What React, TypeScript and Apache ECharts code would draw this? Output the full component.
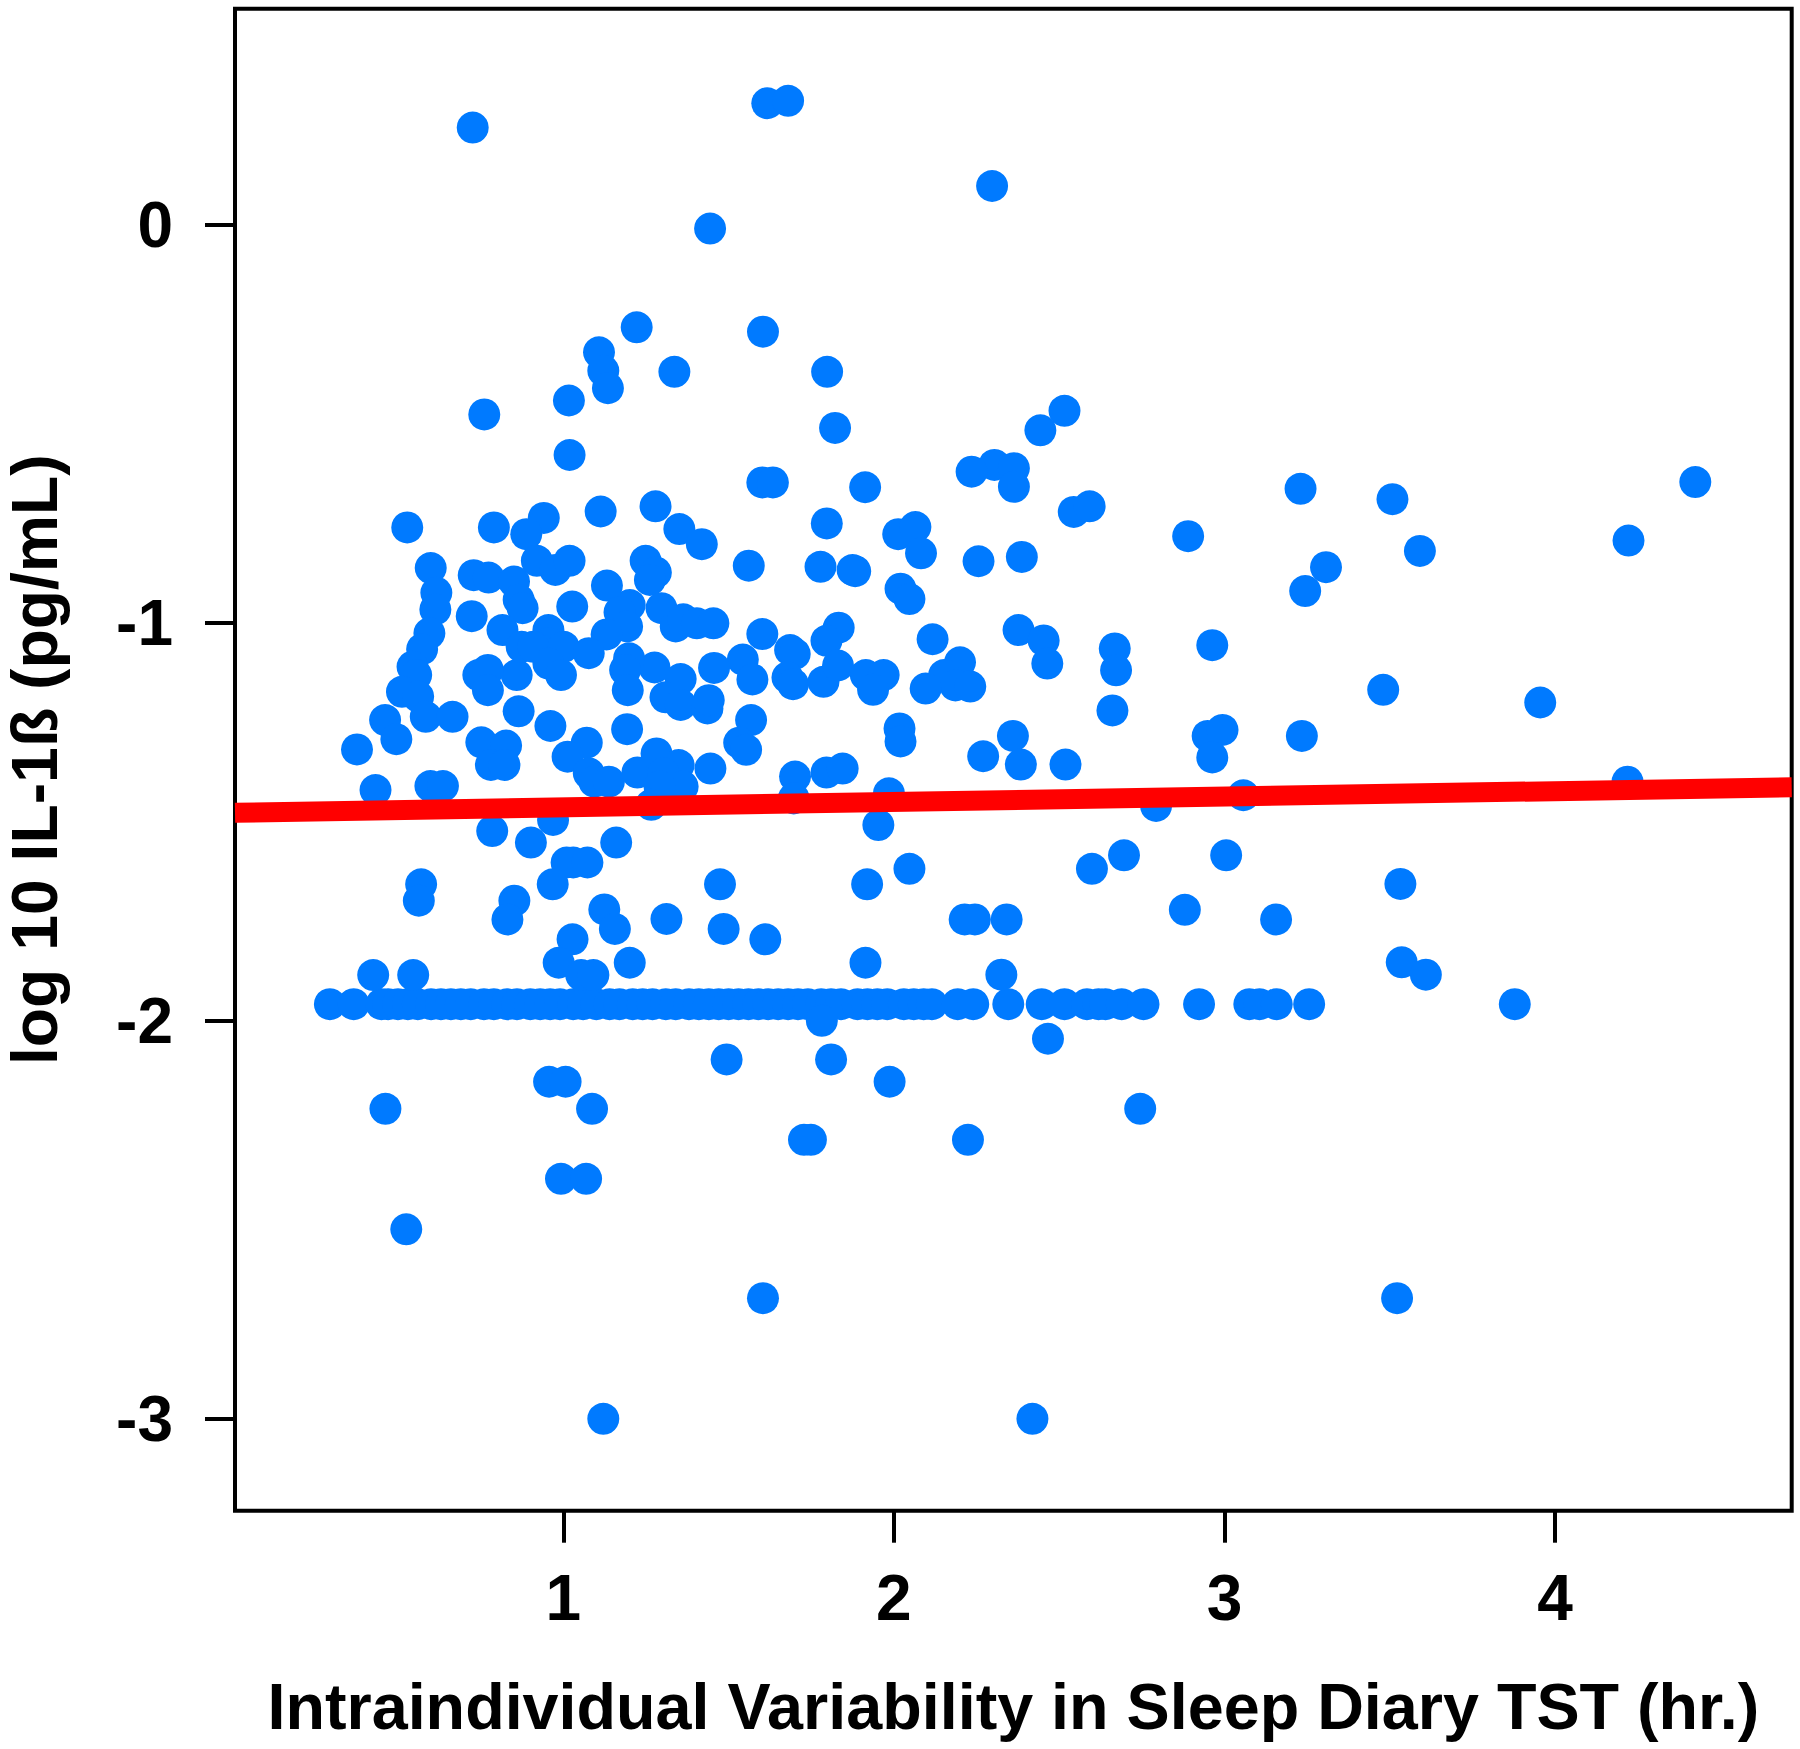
import React, { useEffect, useRef } from "react";
import * as echarts from "echarts";

const xTicks = [1, 2, 3, 4];
const yTicks = [0, -1, -2, -3];
const xRange = [0.007, 4.7156];
const yRange = [-3.231, 0.5436];

const trendX = [0.007, 4.7156];
const trendY = [-1.477, -1.413];

const floorY = -1.958;
const floorX = [
  0.294, 0.366, 0.45, 0.47, 0.5, 0.53, 0.56, 0.6, 0.63, 0.66, 0.69, 0.72, 0.76, 0.79, 0.83, 0.86, 0.9, 0.93,
  0.96, 0.99, 1.03, 1.06, 1.1, 1.14, 1.17, 1.21, 1.24, 1.27, 1.31, 1.34, 1.38, 1.41, 1.44, 1.47, 1.5, 1.53,
  1.56, 1.59, 1.62, 1.65, 1.68, 1.71, 1.74, 1.78, 1.81, 1.84, 1.89, 1.92, 1.95, 1.98, 2.03, 2.06, 2.09, 2.115,
  2.193, 2.24, 2.346, 2.447, 2.516, 2.584, 2.619, 2.64, 2.689, 2.755, 2.923, 3.075, 3.106, 3.158, 3.256, 3.878,
];

const topPoints = [
  [0.726, 0.245], [1.617, 0.306], [1.68, 0.312], [2.297, 0.098], [1.444, -0.009], [1.222, -0.257], [1.604, -0.268],
  [1.108, -0.32], [1.121, -0.366], [1.135, -0.41], [1.336, -0.369], [1.798, -0.369], [1.017, -0.441], [0.761, -0.476],
  [1.822, -0.51], [2.516, -0.467], [2.443, -0.516], [2.304, -0.603], [2.363, -0.611], [2.235, -0.62], [2.363, -0.658],
  [1.019, -0.578], [3.23, -0.663], [3.508, -0.689], [4.424, -0.646], [2.544, -0.721], [2.592, -0.707],
];

const denseUpper = [
  [1.602, -0.647], [1.634, -0.647], [1.913, -0.659], [1.113, -0.72], [1.279, -0.707], [0.528, -0.76], [0.79, -0.76],
  [0.941, -0.736], [0.888, -0.777], [1.351, -0.764], [1.419, -0.802], [1.797, -0.75], [2.013, -0.777], [2.065, -0.759],
  [2.082, -0.825], [1.561, -0.856], [1.778, -0.859], [1.875, -0.867], [1.883, -0.87], [2.02, -0.914], [2.047, -0.94],
  [0.599, -0.862], [0.616, -0.924], [0.613, -0.966], [0.595, -1.026], [0.573, -1.066], [0.544, -1.11], [0.555, -1.131],
  [0.512, -1.173], [0.561, -1.185], [0.584, -1.236], [0.665, -1.236], [0.461, -1.244], [0.495, -1.292], [0.376, -1.318],
  [0.432, -1.42], [0.598, -1.41], [0.636, -1.41], [0.729, -0.88], [0.774, -0.886], [0.851, -0.896], [0.865, -0.942],
  [0.877, -0.963], [0.92, -0.844], [0.976, -0.867], [1.019, -0.844], [0.723, -0.983], [0.816, -1.018], [1.027, -0.959],
  [1.132, -0.906], [1.249, -0.844], [1.28, -0.873], [1.262, -0.892], [1.201, -0.955], [1.17, -0.973], [1.193, -1.009],
  [1.131, -1.029], [1.297, -0.963], [1.34, -1.009], [1.363, -0.991], [1.404, -1.001], [1.454, -1.001], [1.602, -1.028],
  [1.833, -1.012], [1.796, -1.045], [1.686, -1.068], [1.7, -1.078],
];

const denseMiddle = [
  [1.543, -1.092], [1.572, -1.142], [1.456, -1.113], [1.276, -1.112], [1.355, -1.141], [1.309, -1.187], [1.355, -1.206],
  [1.436, -1.215], [1.44, -1.194], [1.568, -1.244], [1.532, -1.301], [1.553, -1.319], [1.678, -1.137], [1.695, -1.154],
  [1.787, -1.148], [1.831, -1.107], [1.915, -1.131], [1.969, -1.131], [1.937, -1.168], [2.017, -1.265], [2.02, -1.298],
  [1.193, -1.267], [0.865, -1.222], [0.961, -1.259], [0.859, -1.131], [0.743, -1.131], [0.772, -1.118], [0.772, -1.169],
  [0.874, -1.06], [0.955, -1.018], [0.955, -1.051], [0.909, -1.06], [1.001, -1.06], [0.955, -1.102], [0.993, -1.131],
  [1.077, -1.076], [1.199, -1.089], [1.187, -1.118], [1.195, -1.169], [0.752, -1.3], [0.827, -1.308], [0.781, -1.357],
  [0.822, -1.357], [1.071, -1.301], [1.013, -1.336], [1.077, -1.378], [1.094, -1.399], [1.138, -1.399], [1.224, -1.376],
  [1.282, -1.328], [1.349, -1.357], [1.445, -1.366], [1.303, -1.378], [1.361, -1.411], [1.291, -1.411], [1.266, -1.457],
  [1.701, -1.386], [1.697, -1.441], [1.796, -1.376], [1.845, -1.366], [1.985, -1.428], [1.953, -1.508], [0.785, -1.523],
  [0.969, -1.495], [0.902, -1.552], [1.16, -1.552],
];

const rightPoints = [
  [2.89, -0.782], [4.222, -0.793], [3.591, -0.819], [3.307, -0.86], [2.256, -0.845], [2.387, -0.834], [3.244, -0.92],
  [2.377, -1.018], [2.453, -1.044], [2.464, -1.102], [2.668, -1.064], [2.672, -1.119], [2.963, -1.056], [2.117, -1.041],
  [2.2, -1.099], [2.152, -1.131], [2.186, -1.157], [2.231, -1.16], [2.096, -1.165], [2.661, -1.22], [3.48, -1.168],
  [3.955, -1.2], [2.36, -1.284], [2.949, -1.284], [2.994, -1.269], [2.963, -1.338], [3.234, -1.284], [2.27, -1.335],
  [2.384, -1.356], [2.519, -1.356], [4.219, -1.399], [2.793, -1.46], [3.057, -1.433],
];

const lowerPoints = [
  [1.01, -1.602], [1.03, -1.602], [1.073, -1.602], [0.968, -1.657], [0.57, -1.657], [0.563, -1.698], [0.852, -1.698],
  [0.831, -1.745], [1.124, -1.72], [1.156, -1.769], [1.312, -1.744], [1.474, -1.657], [1.485, -1.769], [1.611, -1.795],
  [1.919, -1.657], [2.047, -1.618], [2.599, -1.618], [2.696, -1.584], [3.005, -1.584], [3.532, -1.656], [1.028, -1.795],
  [0.986, -1.854], [1.054, -1.885], [1.091, -1.885], [1.201, -1.854], [1.914, -1.854], [0.425, -1.885], [0.546, -1.885],
  [2.214, -1.745], [2.245, -1.745], [2.341, -1.745], [2.88, -1.721], [3.156, -1.745], [2.325, -1.884], [3.536, -1.853],
  [3.609, -1.884], [1.782, -2.0], [2.466, -2.045], [1.494, -2.097], [1.81, -2.097], [0.957, -2.153], [1.007, -2.153],
  [1.987, -2.153], [2.745, -2.221], [0.462, -2.221], [1.087, -2.221], [1.728, -2.299], [1.749, -2.299], [2.224, -2.299],
  [0.993, -2.397], [1.069, -2.397], [0.525, -2.524], [1.604, -2.697], [3.522, -2.697], [1.121, -3.0], [2.419, -3.0],
];

const xTitle = "Intraindividual Variability in Sleep Diary TST (hr.)";
const yTitle = "log 10 IL-1ß (pg/mL)";
const fontFamily = "'Liberation Sans', Arial, sans-serif";

export default function App() {
  const ref = useRef<HTMLDivElement>(null);
  useEffect(() => {
    const chart = echarts.init(ref.current!, undefined, { renderer: "svg" });
    const points = [
      ...floorX.map((x) => [x, floorY]),
      ...topPoints,
      ...denseUpper,
      ...denseMiddle,
      ...rightPoints,
      ...lowerPoints,
    ];
    const axisText = { fontFamily, fontWeight: "bold" as const, fontSize: 64, color: "#000" };
    chart.setOption({
      animation: false,
      backgroundColor: "#fff",
      grid: {
        left: 235,
        right: 8.3,
        top: 8.7,
        bottom: 238.3,
        outerBoundsMode: "none",
        show: true,
        borderColor: "#000",
        borderWidth: 4,
        backgroundColor: "transparent",
      },
      xAxis: {
        type: "value",
        min: xRange[0],
        max: xRange[1],
        splitLine: { show: false },
        axisLine: { show: false, onZero: false },
        axisTick: { show: true, length: 32, customValues: xTicks, lineStyle: { color: "#000", width: 4 } },
        axisLabel: { ...axisText, margin: 55, customValues: xTicks, formatter: (v: number) => String(v) },
        name: xTitle,
        nameLocation: "middle",
        nameGap: 163,
        nameTextStyle: { fontFamily, fontWeight: "bold", fontSize: 64.7, color: "#000" },
      },
      yAxis: {
        type: "value",
        min: yRange[0],
        max: yRange[1],
        splitLine: { show: false },
        axisLine: { show: false, onZero: false },
        axisTick: { show: true, length: 30, customValues: yTicks, lineStyle: { color: "#000", width: 4 } },
        axisLabel: { ...axisText, margin: 62, customValues: yTicks, formatter: (v: number) => String(v) },
        name: yTitle,
        nameLocation: "middle",
        nameGap: 168,
        nameRotate: 90,
        nameTextStyle: { fontFamily, fontWeight: "bold", fontSize: 64.3, color: "#000" },
      },
      series: [
        {
          type: "scatter",
          data: points,
          symbol: "circle",
          symbolSize: 32,
          itemStyle: { color: "#007AFF", opacity: 1 },
          z: 2,
          clip: true,
        },
        {
          type: "line",
          data: trendX.map((x, i) => [x, trendY[i]]),
          showSymbol: false,
          symbol: "none",
          lineStyle: { color: "#FF0000", width: 20 },
          z: 3,
          clip: true,
        },
      ],
    });
    return () => chart.dispose();
  }, []);
  return <div ref={ref} style={{ position: "absolute", left: 0, top: 0, width: 1800, height: 1749 }} />;
}
